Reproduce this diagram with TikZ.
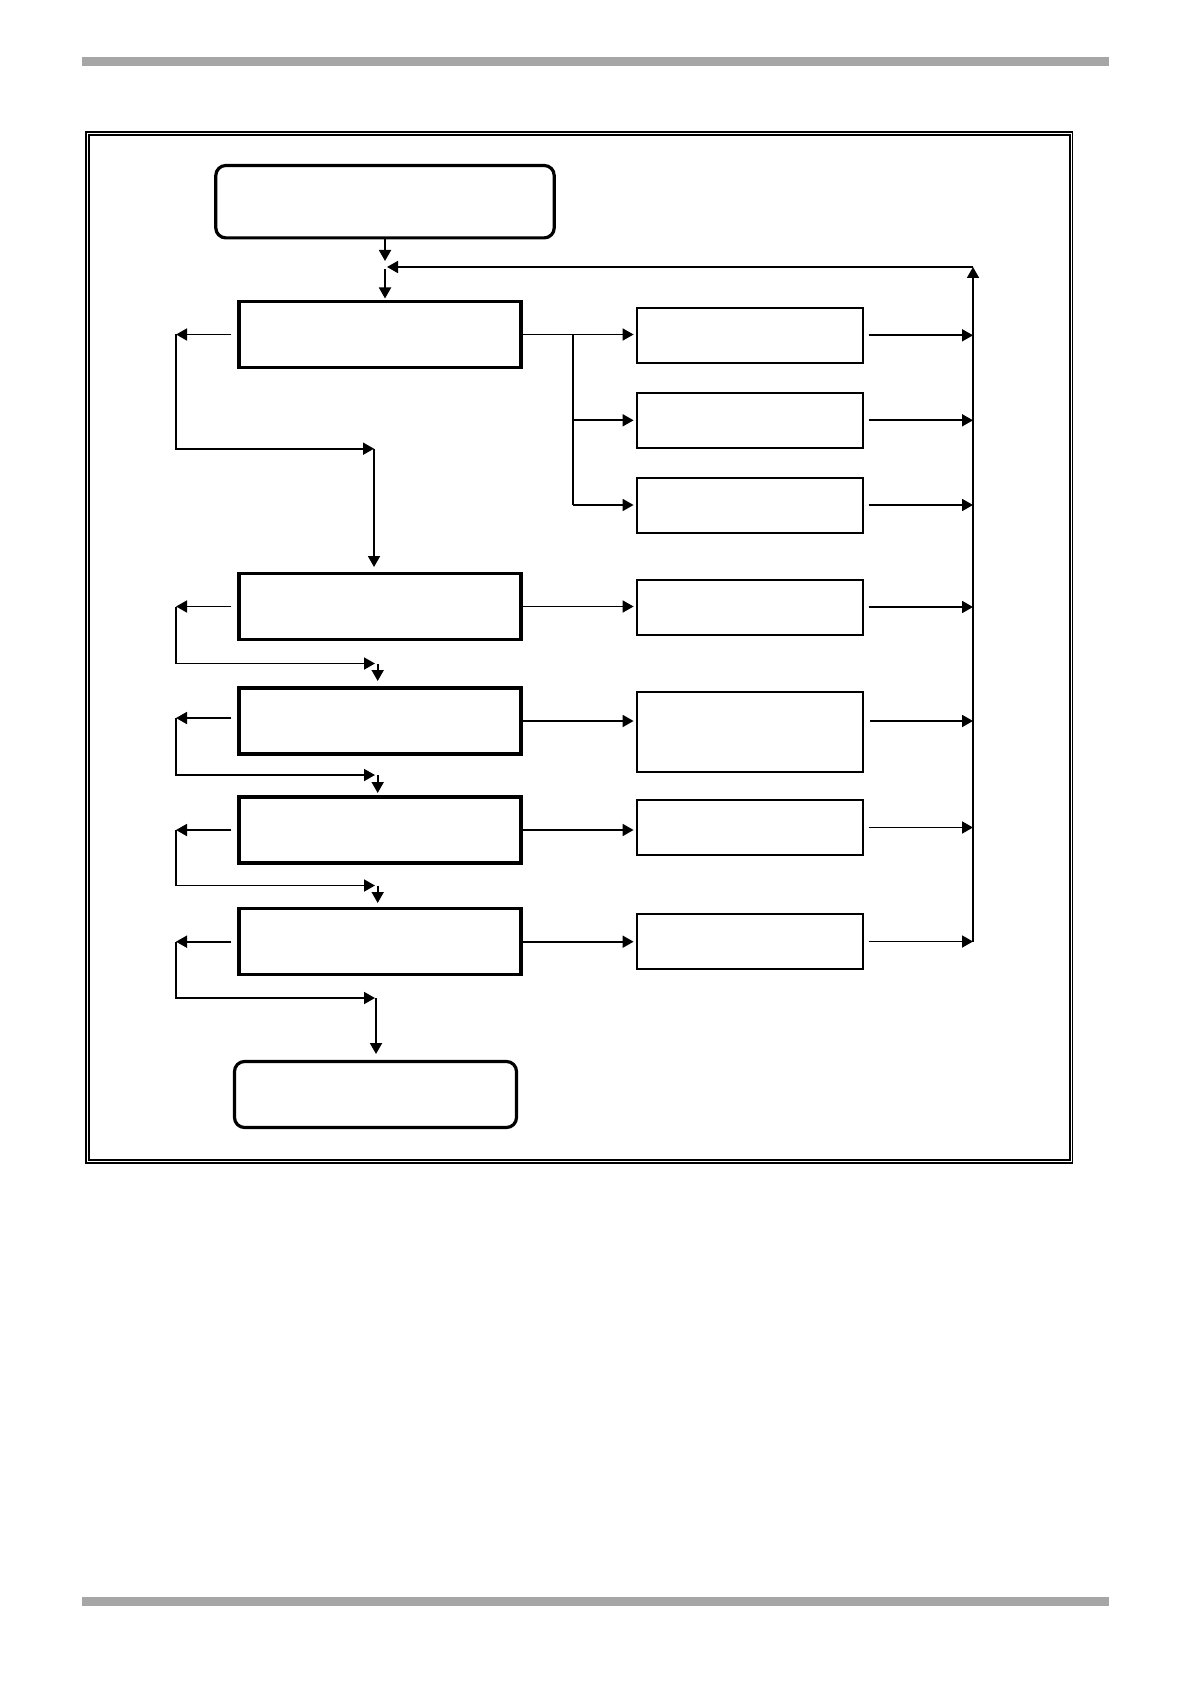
\documentclass[tikz,border=0pt]{standalone}
\usetikzlibrary{arrows.meta}
\definecolor{bargray}{HTML}{A6A6A6}
\tikzset{
  mainbox/.style={draw, line width=1.6pt, minimum width=141pt, minimum height=33pt, inner sep=0pt},
  roundbox/.style={mainbox, rounded corners=5pt},
  sidebox/.style={draw, line width=1pt, minimum width=113pt, minimum height=27.5pt, inner sep=0pt},
  conn/.style={line width=0.9pt},
  arr/.style={conn, -{Triangle[length=5.5pt,width=6pt]}},
}
\begin{document}
\begin{tikzpicture}[x=0.5pt,y=-0.5pt]
\useasboundingbox (0,0) rectangle (1190,1684);
% page bars
\fill[bargray] (82,57.3) rectangle (1109,65.7);
\fill[bargray] (82,1596.7) rectangle (1109,1605.7);
% double frame
\draw[line width=0.7pt] (86,132) rectangle (1072.5,1163);
\draw[line width=1pt] (89.2,134.8) rectangle (1069.5,1160.3);

% nodes
\node[roundbox, minimum width=169.2pt, minimum height=36.2pt] (start) at (385,201.7) {};
\node[mainbox] (b1) at (380,334.5) {};
\node[mainbox] (b2) at (380,606.5) {};
\node[mainbox] (b3) at (380,721) {};
\node[mainbox] (b4) at (380,830) {};
\node[mainbox] (b5) at (380,941.7) {};
\node[roundbox] (fin) at (375.5,1094.5) {};
\node[sidebox] (A) at (749.6,335.3) {};
\node[sidebox] (B) at (749.6,420.3) {};
\node[sidebox] (C) at (749.6,505) {};
\node[sidebox] (D) at (749.6,607) {};
\node[sidebox, minimum height=40.3pt] (E) at (749.6,732) {};
\node[sidebox] (F) at (749.6,827.5) {};
\node[sidebox] (G) at (749.6,941.5) {};

% top junction and feedback bus
\coordinate (jin) at (385,261);
\coordinate (jtip) at (387,267);
\coordinate (jout) at (385,269);
\coordinate (jend) at (385,298.5);
\coordinate (bustop) at (973,267);
\coordinate (busbot) at (973,942);
\draw[arr] (start.south) -- (jin);
\draw[arr] (jout) -- (jend);
\draw[arr] (busbot) -- (bustop);
\draw[arr] (bustop) -- (jtip);

% side boxes to bus
\foreach \n in {A,B,C,D,F,G}{
  \draw[arr] ([xshift=2.5pt]\n.east) -- (\n.east -| bustop);
}
\coordinate (eout) at (865,721);
\draw[arr] ([xshift=2.5pt]eout) -- (eout -| bustop);

% main boxes to side boxes
\coordinate (br1) at (572.7,334.5);
\draw[arr, shorten >=1pt] (b1.east) -- (b1.east -| A.west);
\draw[conn] (br1) -- (br1 |- C.west);
\draw[arr, shorten >=1pt] (br1 |- B.west) -- (B.west);
\draw[arr, shorten >=1pt] (br1 |- C.west) -- (C.west);
\draw[arr, shorten >=1pt] (b2.east) -- (b2.east -| D.west);
\draw[arr, shorten >=1pt] (b3.east) -- (b3.east -| E.west);
\draw[arr, shorten >=1pt] (b4.east) -- (b4.east -| F.west);
\draw[arr, shorten >=1pt] (b5.east) -- (b5.east -| G.west);

% left loops
\coordinate (lx) at (176,0);
% box 1
\coordinate (c1a) at (176,448.7);
\coordinate (c1b) at (374,448.7);
\coordinate (c1c) at (374,567);
\draw[arr] ([xshift=-3pt]b1.west) -- (b1.west -| lx);
\draw[arr] (b1.west -| lx) -- (c1a) -- (c1b);
\draw[arr] (c1b) -- (c1c);
% box 2
\coordinate (c2a) at (176,663.5);
\coordinate (c2b) at (375,663.5);
\coordinate (c2c) at (377.7,663.5);
\coordinate (c2d) at (377.7,681);
\draw[arr] ([xshift=-3pt]b2.west) -- (b2.west -| lx);
\draw[arr] (b2.west -| lx) -- (c2a) -- (c2b);
\draw[arr] (c2c) -- (c2d);
% box 3
\coordinate (c3a) at (176,775);
\coordinate (c3b) at (375,775);
\coordinate (c3c) at (377.7,775);
\coordinate (c3d) at (377.7,793);
\draw[arr] ([xshift=-3pt,yshift=1.5pt]b3.west) -- ([yshift=1.5pt]b3.west -| lx);
\draw[arr] ([yshift=1.5pt]b3.west -| lx) -- (c3a) -- (c3b);
\draw[arr] (c3c) -- (c3d);
% box 4
\coordinate (c4a) at (176,885.5);
\coordinate (c4b) at (375,885.5);
\coordinate (c4c) at (377.7,885.5);
\coordinate (c4d) at (377.7,903);
\draw[arr] ([xshift=-3pt]b4.west) -- (b4.west -| lx);
\draw[arr] (b4.west -| lx) -- (c4a) -- (c4b);
\draw[arr] (c4c) -- (c4d);
% box 5
\coordinate (c5a) at (176,998);
\coordinate (c5b) at (375,998);
\coordinate (c5c) at (376,998);
\coordinate (c5d) at (376,1054);
\draw[arr] ([xshift=-3pt]b5.west) -- (b5.west -| lx);
\draw[arr] (b5.west -| lx) -- (c5a) -- (c5b);
\draw[arr] (c5c) -- (c5d);
\end{tikzpicture}
\end{document}
